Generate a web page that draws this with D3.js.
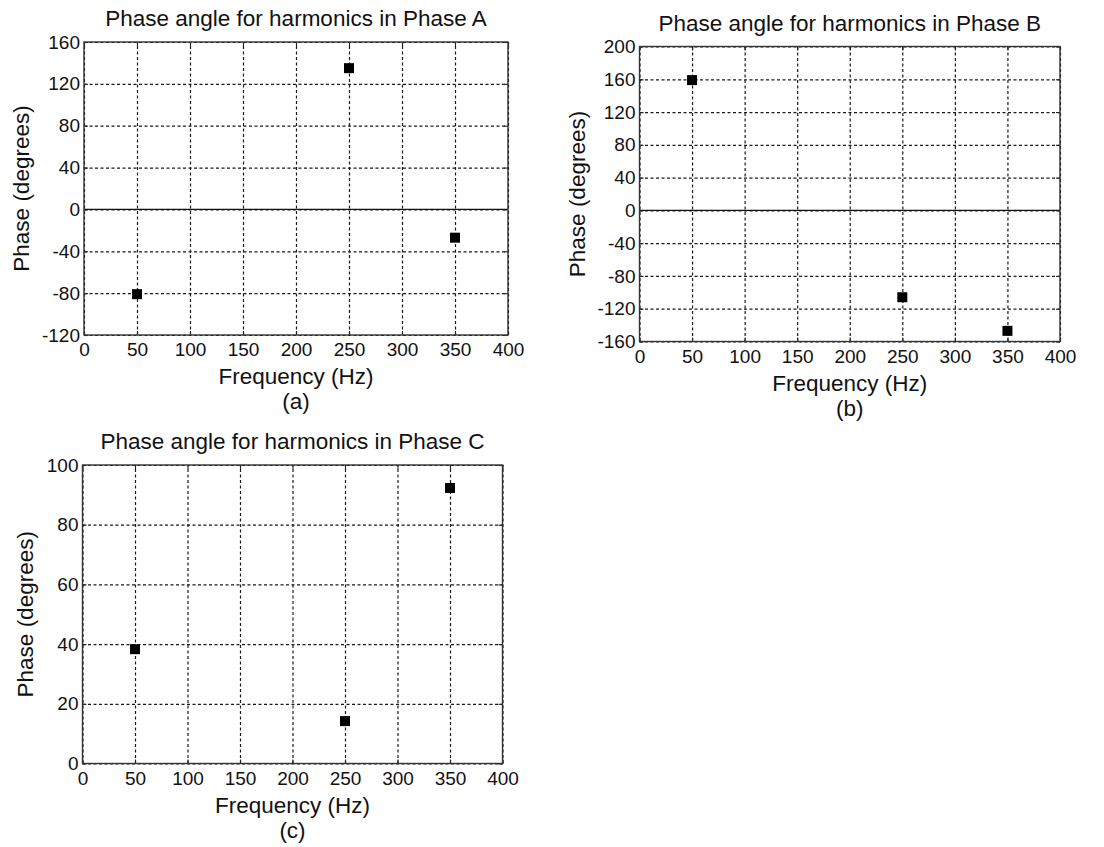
<!DOCTYPE html>
<html>
  <head>
    <meta charset="utf-8">
    <title>Phase angle for harmonics</title>
    <script src="https://d3js.org/d3.v7.min.js"></script>
    <style>
      body { margin: 0; background: #fff; }
      text { font-family: "Liberation Sans", Arial, sans-serif; fill: #111; }
    </style>
  </head>
  <body>
    <svg width="1104" height="847"></svg>
    <script>
      // data
      const freqs = [50, 250, 350];
      const phaseA = [-81, 135, -27];
      const phaseB = [159, -106, -147];
      const phaseC = [38.3, 14.2, 92.3];

      const xTicks = [0, 50, 100, 150, 200, 250, 300, 350, 400];
      const yTicksA = [-120, -80, -40, 0, 40, 80, 120, 160];
      const yTicksB = [-160, -120, -80, -40, 0, 40, 80, 120, 160, 200];
      const yTicksC = [0, 20, 40, 60, 80, 100];

      const titles = [
        "Phase angle for harmonics in Phase A",
        "Phase angle for harmonics in Phase B",
        "Phase angle for harmonics in Phase C"
      ];
      const subLabels = ["(a)", "(b)", "(c)"];

      function drawPanel(svg, p) {
        const { left, right, top, bottom, values, yTicks, title, sub, yLabelOffset, zeroLine } = p;
        const x = d3.scaleLinear().domain([0, 400]).range([left, right]);
        const y = d3.scaleLinear().domain([yTicks[0], yTicks[yTicks.length - 1]]).range([bottom, top]);
        const g = svg.append("g");
        const h = bottom - top, w = right - left;

        // grid
        const gx = g.append("g").attr("transform", `translate(0,${bottom})`)
          .call(d3.axisBottom(x).tickValues(xTicks).tickSize(-h).tickFormat(""));
        const gy = g.append("g").attr("transform", `translate(${left},0)`)
          .call(d3.axisLeft(y).tickValues(yTicks).tickSize(-w).tickFormat(""));
        [gx, gy].forEach(a => {
          a.select(".domain").remove();
          a.selectAll("line").attr("stroke", "#1a1a1a").attr("stroke-width", 1.2)
            .attr("stroke-dasharray", "3,2.5");
        });

        if (zeroLine) {
          g.append("line")
            .attr("x1", x(0)).attr("x2", x(400))
            .attr("y1", y(0)).attr("y2", y(0))
            .attr("stroke", "#111").attr("stroke-width", 1.3);
        }

        // inward ticks on all four sides
        const tk = 4;
        const ticks = [
          [d3.axisBottom(x).tickValues(xTicks).tickSize(-tk), `translate(0,${bottom})`],
          [d3.axisTop(x).tickValues(xTicks).tickSize(-tk), `translate(0,${top})`],
          [d3.axisLeft(y).tickValues(yTicks).tickSize(-tk), `translate(${left},0)`],
          [d3.axisRight(y).tickValues(yTicks).tickSize(-tk), `translate(${right},0)`]
        ];
        ticks.forEach(([ax, tr]) => {
          const a = g.append("g").attr("transform", tr).call(ax.tickFormat(""));
          a.select(".domain").remove();
          a.selectAll("line").attr("stroke", "#222").attr("stroke-width", 1.1);
        });

        // tick labels
        const fmt = d => String(d);
        const lx = g.append("g").attr("transform", `translate(0,${bottom})`)
          .call(d3.axisBottom(x).tickValues(xTicks).tickSize(0).tickPadding(8).tickFormat(fmt));
        const ly = g.append("g").attr("transform", `translate(${left},0)`)
          .call(d3.axisLeft(y).tickValues(yTicks).tickSize(0).tickPadding(4).tickFormat(fmt));
        [lx, ly].forEach(a => {
          a.select(".domain").remove();
          a.selectAll("text").attr("font-size", 19).attr("font-family", "Liberation Sans, Arial, sans-serif").attr("fill", "#111");
        });

        // box
        g.append("rect")
          .attr("x", left).attr("y", top).attr("width", w).attr("height", h)
          .attr("fill", "none").attr("stroke", "#333").attr("stroke-width", 1.4);

        // markers
        const sz = 10;
        g.selectAll("rect.mark").data(freqs.map((f, i) => ({ f, v: values[i] })))
          .join("rect").attr("class", "mark")
          .attr("x", d => x(d.f) - sz / 2).attr("y", d => y(d.v) - sz / 2)
          .attr("width", sz).attr("height", sz).attr("fill", "#000");

        // texts
        const cx = (left + right) / 2;
        g.append("text").attr("x", cx).attr("y", top - 16)
          .attr("text-anchor", "middle").attr("font-size", 22.5).text(title);
        g.append("text").attr("x", cx).attr("y", bottom + 49)
          .attr("text-anchor", "middle").attr("font-size", 22.5).text("Frequency (Hz)");
        g.append("text").attr("x", cx).attr("y", bottom + 74)
          .attr("text-anchor", "middle").attr("font-size", 22.5).text(sub);
        g.append("text")
          .attr("transform", `translate(${left - yLabelOffset},${(top + bottom) / 2}) rotate(-90)`)
          .attr("text-anchor", "middle").attr("font-size", 22.5).text("Phase (degrees)");
      }

      const svg = d3.select("svg");
      svg.append("rect").attr("width", 1104).attr("height", 847).attr("fill", "#fff");

      drawPanel(svg, { left: 84, right: 508, top: 42, bottom: 335, values: phaseA, yTicks: yTicksA,
        title: titles[0], sub: subLabels[0], yLabelOffset: 55, zeroLine: true });
      drawPanel(svg, { left: 639.5, right: 1060, top: 46.5, bottom: 341.5, values: phaseB, yTicks: yTicksB,
        title: titles[1], sub: subLabels[1], yLabelOffset: 55, zeroLine: true });
      drawPanel(svg, { left: 82.5, right: 502.5, top: 465, bottom: 763.5, values: phaseC, yTicks: yTicksC,
        title: titles[2], sub: subLabels[2], yLabelOffset: 50, zeroLine: false });
    </script>
  </body>
</html>
